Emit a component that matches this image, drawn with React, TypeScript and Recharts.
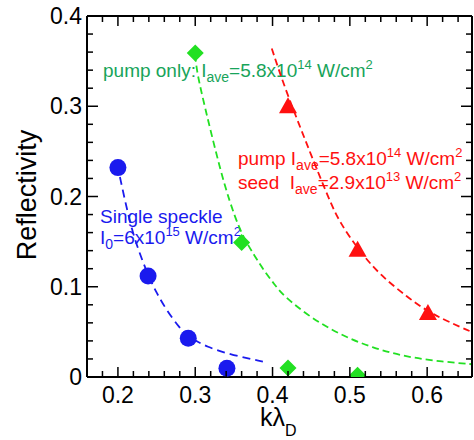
import React from 'react';
import { ComposedChart, Line, Scatter, XAxis, YAxis, Customized } from 'recharts';

const FONT = 'Liberation Sans, Arial, Helvetica, sans-serif';

// measured points
const singleSpeckle = [
  { x: 0.2, y: 0.232 },
  { x: 0.239, y: 0.112 },
  { x: 0.291, y: 0.043 },
  { x: 0.341, y: 0.0096 },
];
const pumpOnly = [
  { x: 0.3, y: 0.359 },
  { x: 0.36, y: 0.149 },
  { x: 0.42, y: 0.01 },
  { x: 0.51, y: 0.002 },
];
const pumpSeed = [
  { x: 0.42, y: 0.3 },
  { x: 0.51, y: 0.141 },
  { x: 0.601, y: 0.071 },
];

// dashed fit curves
const speckleFit = [
  { x: 0.2026, y: 0.2216 },
  { x: 0.209, y: 0.196 },
  { x: 0.218, y: 0.163 },
  { x: 0.228, y: 0.137 },
  { x: 0.239, y: 0.113 },
  { x: 0.25, y: 0.093 },
  { x: 0.263, y: 0.074 },
  { x: 0.28, y: 0.054 },
  { x: 0.291, y: 0.045 },
  { x: 0.315, y: 0.033 },
  { x: 0.349, y: 0.024 },
  { x: 0.388, y: 0.017 },
];
const pumpOnlyFit = [
  { x: 0.3, y: 0.357 },
  { x: 0.302, y: 0.338 },
  { x: 0.3125, y: 0.299 },
  { x: 0.325, y: 0.255 },
  { x: 0.338, y: 0.212 },
  { x: 0.351, y: 0.178 },
  { x: 0.362, y: 0.155 },
  { x: 0.377, y: 0.134 },
  { x: 0.388, y: 0.119 },
  { x: 0.403, y: 0.102 },
  { x: 0.414, y: 0.09 },
  { x: 0.449, y: 0.066 },
  { x: 0.487, y: 0.047 },
  { x: 0.53, y: 0.032 },
  { x: 0.574, y: 0.022 },
  { x: 0.62, y: 0.017 },
  { x: 0.66, y: 0.014 },
];
const pumpSeedFit = [
  { x: 0.399, y: 0.364 },
  { x: 0.416, y: 0.32 },
  { x: 0.438, y: 0.272 },
  { x: 0.448, y: 0.25 },
  { x: 0.474, y: 0.195 },
  { x: 0.487, y: 0.171 },
  { x: 0.513, y: 0.139 },
  { x: 0.539, y: 0.113 },
  { x: 0.574, y: 0.089 },
  { x: 0.604, y: 0.07 },
  { x: 0.66, y: 0.049 },
];

const xTicks = [0.18, 0.2, 0.22, 0.24, 0.26, 0.28, 0.3, 0.32, 0.34, 0.36, 0.38, 0.4, 0.42, 0.44, 0.46, 0.48, 0.5, 0.52, 0.54, 0.56, 0.58, 0.6, 0.62, 0.64];
const yTicks = [0, 0.02, 0.04, 0.06, 0.08, 0.1, 0.12, 0.14, 0.16, 0.18, 0.2, 0.22, 0.24, 0.26, 0.28, 0.3, 0.32, 0.34, 0.36, 0.38, 0.4];

const BLUE = '#1a1aee';
const GREEN = '#22e022';
const GREEN_TEXT = '#18a45a';
const RED = '#ff1010';

const isMajor = (v: number) => Math.abs(v * 10 - Math.round(v * 10)) < 1e-6;

function BottomTick({ x, y, payload }: any) {
  const major = isMajor(payload.value);
  return (
    <g>
      <line x1={x} y1={y} x2={x} y2={y - (major ? 10 : 6)} stroke="#000" strokeWidth={1.5} />
      {major && (
        <text x={x} y={y + 26} textAnchor="middle" fontSize={23} fontFamily={FONT} fill="#000">
          {payload.value.toFixed(1)}
        </text>
      )}
    </g>
  );
}

function TopTick({ x, y, payload }: any) {
  const major = isMajor(payload.value);
  return <line x1={x} y1={y} x2={x} y2={y + (major ? 10 : 6)} stroke="#000" strokeWidth={1.5} />;
}

function LeftTick({ x, y, payload }: any) {
  const v = payload.value;
  const major = isMajor(v);
  return (
    <g>
      <line x1={x} y1={y} x2={x + (major ? 11 : 6)} y2={y} stroke="#000" strokeWidth={1.5} />
      {major && (
        <text x={x - 5} y={y + 8} textAnchor="end" fontSize={23} fontFamily={FONT} fill="#000">
          {v === 0 ? '0' : v.toFixed(1)}
        </text>
      )}
    </g>
  );
}

function RightTick({ x, y, payload }: any) {
  const major = isMajor(payload.value);
  return <line x1={x} y1={y} x2={x - (major ? 11 : 6)} y2={y} stroke="#000" strokeWidth={1.5} />;
}

const Circle = ({ cx, cy }: any) => <circle cx={cx} cy={cy} r={8.5} fill={BLUE} />;
const Diamond = ({ cx, cy }: any) => (
  <path d={`M${cx},${cy - 8.5}L${cx + 8.5},${cy}L${cx},${cy + 8.5}L${cx - 8.5},${cy}Z`} fill={GREEN} />
);
const Triangle = ({ cx, cy }: any) => (
  <path d={`M${cx},${cy - 9}L${cx + 9},${cy + 7}L${cx - 9},${cy + 7}Z`} fill={RED} />
);

// I_sub = value x10^exp W/cm^2
function Intensity({ x, y, prefix, sub, value, exp, color }: any) {
  return (
    <text x={x} y={y} fontSize={19} fontFamily={FONT} fill={color}>
      {prefix}
      <tspan fontSize={14} dy={5}>{sub}</tspan>
      <tspan dy={-5}>{`=${value}x10`}</tspan>
      <tspan fontSize={13} dy={-8}>{exp}</tspan>
      <tspan dy={8}> W/cm</tspan>
      <tspan fontSize={13} dy={-8}>2</tspan>
    </text>
  );
}

function Annotations() {
  return (
    <g>
      <Intensity x={103} y={77} prefix="pump only: I" sub="ave" value="5.8" exp="14" color={GREEN_TEXT} />
      <Intensity x={238} y={165} prefix="pump I" sub="ave" value="5.8" exp="14" color={RED} />
      <Intensity x={238} y={189} prefix={'seed\u00a0\u00a0I'} sub="ave" value="2.9" exp="13" color={RED} />
      <text x={100} y={223} fontSize={19} fontFamily={FONT} fill={BLUE}>Single speckle</text>
      <Intensity x={100} y={244} prefix="I" sub="0" value="6" exp="15" color={BLUE} />
      <text
        transform="translate(36,195) rotate(-90)"
        textAnchor="middle"
        fontSize={27}
        fontFamily={FONT}
        fill="#000"
      >
        Reflectivity
      </text>
      <text x={260} y={426} fontSize={25} fontFamily={FONT} fill="#000">
        kλ<tspan fontSize={16} dy={10}>D</tspan>
      </text>
    </g>
  );
}

export default function App() {
  return (
    <div style={{ position: 'absolute', left: 0, top: 0, background: '#fff' }}>
      <ComposedChart width={474} height={440} margin={{ top: 15, right: 1, bottom: 62, left: 86 }}>
        <XAxis
          dataKey="x"
          type="number"
          domain={[0.16, 0.658]}
          allowDataOverflow
          ticks={xTicks}
          interval={0}
          tickSize={0}
          tickMargin={0}
          tick={<BottomTick />}
          axisLine={{ stroke: '#000', strokeWidth: 2 }}
          height={1}
        />
        <XAxis
          xAxisId="top"
          orientation="top"
          dataKey="x"
          type="number"
          domain={[0.16, 0.658]}
          allowDataOverflow
          ticks={xTicks}
          interval={0}
          tickSize={0}
          tickMargin={0}
          tick={<TopTick />}
          axisLine={{ stroke: '#000', strokeWidth: 2 }}
          height={1}
        />
        <YAxis
          dataKey="y"
          type="number"
          domain={[0, 0.4]}
          allowDataOverflow
          ticks={yTicks}
          interval={0}
          tickSize={0}
          tickMargin={0}
          tick={<LeftTick />}
          axisLine={{ stroke: '#000', strokeWidth: 2 }}
          width={1}
        />
        <YAxis
          yAxisId="right"
          orientation="right"
          type="number"
          domain={[0, 0.4]}
          allowDataOverflow
          ticks={yTicks}
          interval={0}
          tickSize={0}
          tickMargin={0}
          tick={<RightTick />}
          axisLine={{ stroke: '#000', strokeWidth: 2 }}
          width={1}
        />
        <Line data={speckleFit} dataKey="y" type="basis" stroke={BLUE} strokeWidth={1.8} strokeDasharray="8 5" dot={false} activeDot={false} isAnimationActive={false} />
        <Line data={pumpOnlyFit} dataKey="y" type="basis" stroke={GREEN} strokeWidth={1.8} strokeDasharray="7 4" dot={false} activeDot={false} isAnimationActive={false} />
        <Line data={pumpSeedFit} dataKey="y" type="basis" stroke={RED} strokeWidth={1.8} strokeDasharray="7 4" dot={false} activeDot={false} isAnimationActive={false} />
        <Scatter data={singleSpeckle} dataKey="y" shape={<Circle />} isAnimationActive={false} />
        <Scatter data={pumpOnly} dataKey="y" shape={<Diamond />} isAnimationActive={false} />
        <Scatter data={pumpSeed} dataKey="y" shape={<Triangle />} isAnimationActive={false} />
        <Customized component={<Annotations />} />
      </ComposedChart>
    </div>
  );
}
